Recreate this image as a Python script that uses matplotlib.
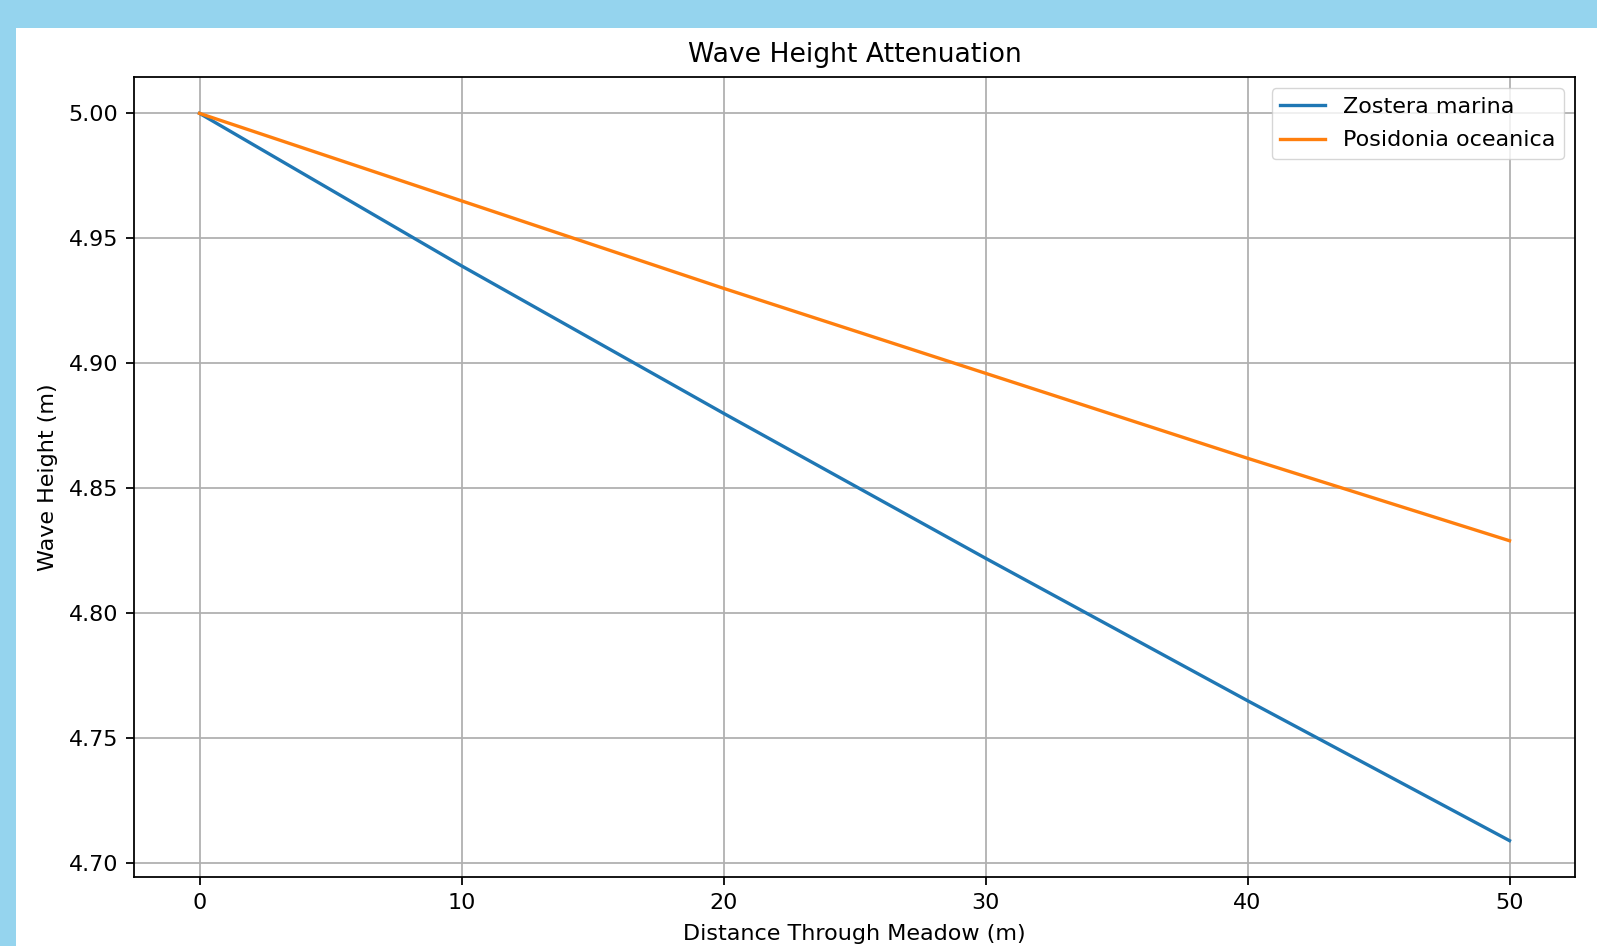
import numpy as np
import matplotlib
matplotlib.use('Agg')
from matplotlib import pyplot as plt
from matplotlib.patches import Rectangle

"""data read from the chart"""
distance = [0, 10, 20, 30, 40, 50]
zostera = [5.000, 4.939, 4.880, 4.822, 4.765, 4.709]
posidonia = [5.000, 4.965, 4.930, 4.896, 4.862, 4.829]
labels = ['Zostera marina', 'Posidonia oceanica']

s = 1.6  # picture is a scaled-up default matplotlib figure
plt.rcParams.update({
  'font.size': 10*s,
  'lines.linewidth': 1.5*s,
  'grid.linewidth': 0.8*s,
  'axes.linewidth': 0.8*s,
  'xtick.major.size': 3.5*s, 'ytick.major.size': 3.5*s,
  'xtick.major.width': 0.8*s, 'ytick.major.width': 0.8*s,
  'xtick.major.pad': 3.5*s, 'ytick.major.pad': 3.5*s,
})

W, H = 1597, 946
fig = plt.figure(figsize=(W/100, H/100), dpi=100, facecolor='#95d4ee')
fig.add_artist(Rectangle((16/W, 0), 1 - 16/W, 1 - 28/H, transform=fig.transFigure,
                         facecolor='white', edgecolor='none', zorder=-10))
ax = fig.add_axes([134/W, 1 - 877/H, (1575-134)/W, (877-77)/H])

ax.plot(distance, zostera, label=labels[0])
ax.plot(distance, posidonia, label=labels[1])
ax.set_title('Wave Height Attenuation', pad=6*s + 1)
ax.set_xlabel('Distance Through Meadow (m)', labelpad=4*s + 1.5)
ax.set_ylabel('Wave Height (m)', labelpad=4*s + 1)
ax.grid(True)
ax.legend(loc='upper right', labelspacing=0.6)

fig.savefig('out.png', dpi=100, facecolor=fig.get_facecolor())
